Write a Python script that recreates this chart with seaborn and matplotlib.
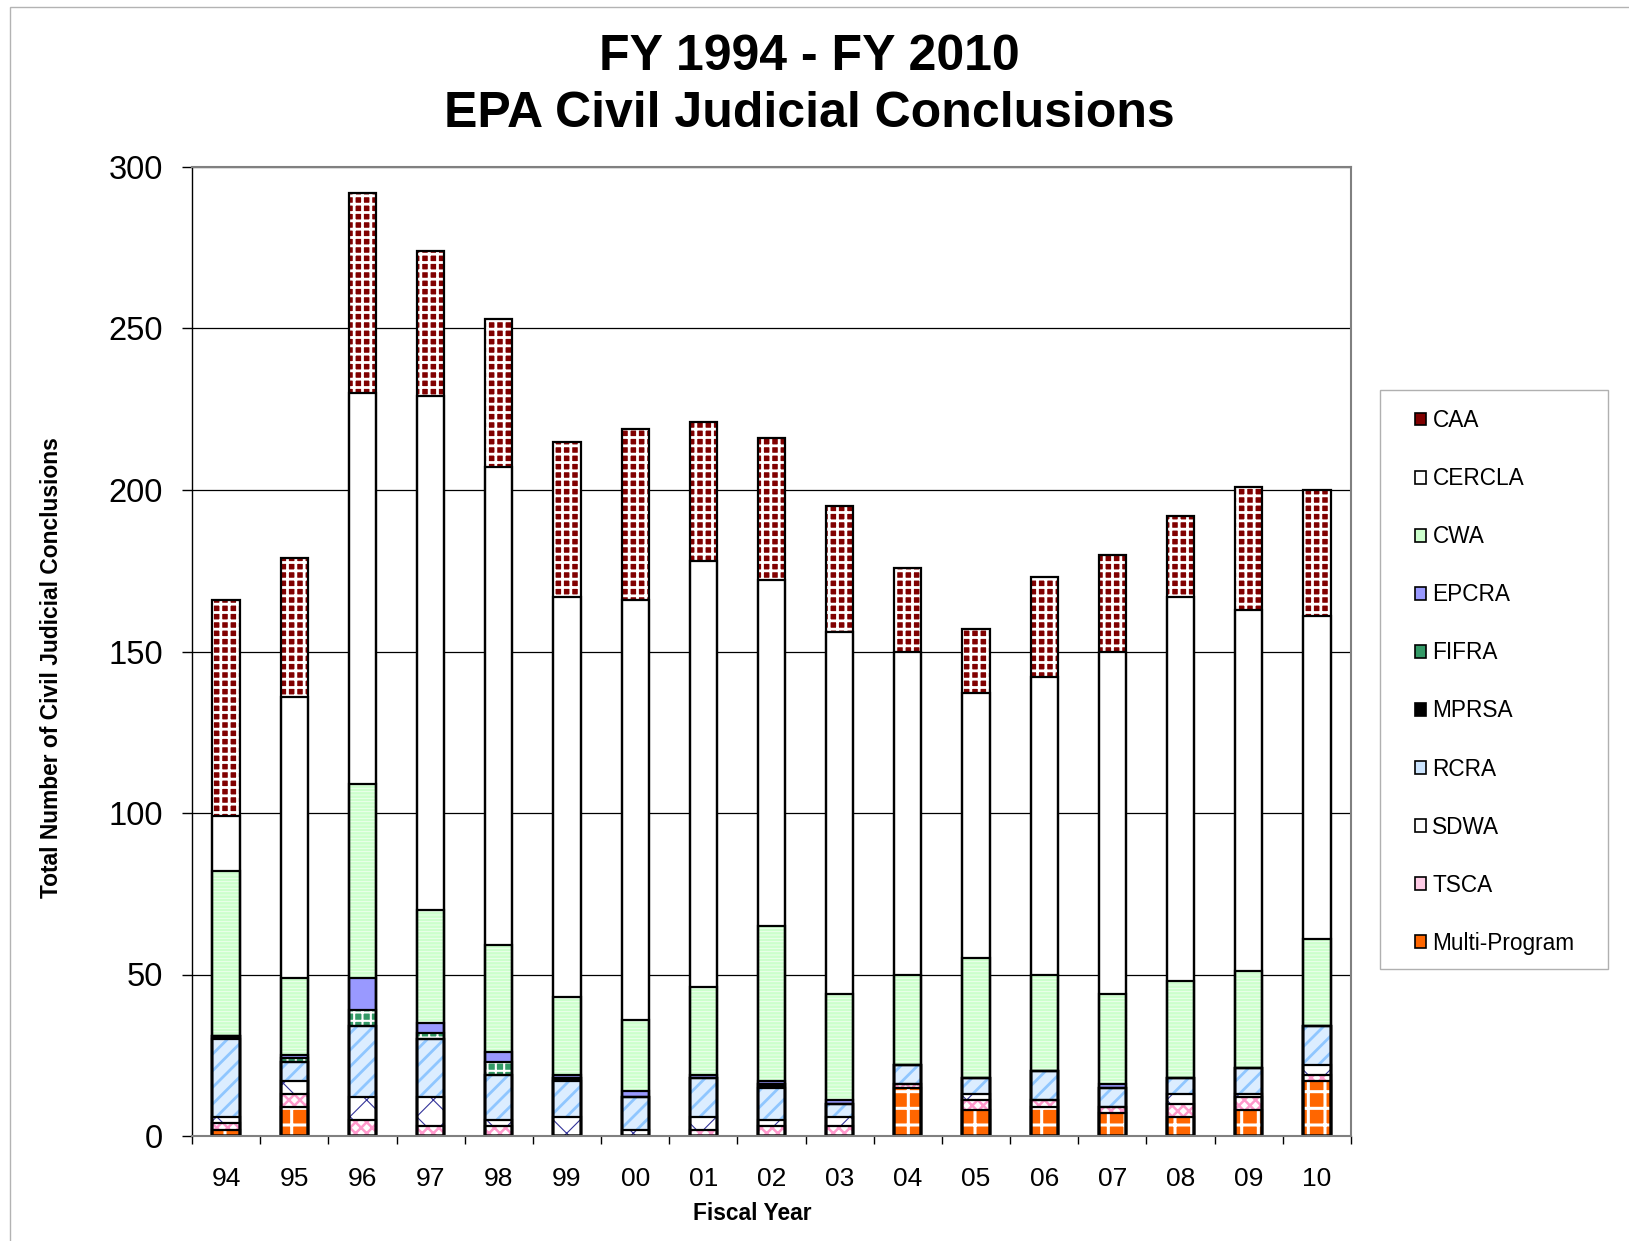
import matplotlib

matplotlib.use("Agg")
import matplotlib.pyplot as plt
import numpy as np
import seaborn as sns
from matplotlib.patches import Patch, Rectangle

# fiscal years (x categories)
years = ["94", "95", "96", "97", "98", "99", "00", "01", "02",
         "03", "04", "05", "06", "07", "08", "09", "10"]

# conclusions per program, bottom of the stack first
multi_program = [2, 9, 0, 0, 0, 0, 0, 0, 0, 0, 15, 8, 9, 7, 6, 8, 17]
tsca = [2, 4, 5, 3, 3, 0, 0, 2, 3, 3, 1, 3, 2, 2, 4, 4, 2]
sdwa = [2, 4, 7, 9, 2, 6, 2, 4, 2, 3, 0, 2, 0, 0, 3, 1, 3]
rcra = [24, 6, 22, 18, 14, 11, 10, 12, 10, 4, 6, 5, 9, 6, 5, 8, 12]
mprsa = [1, 0, 0, 0, 0, 1, 0, 0, 1, 0, 0, 0, 0, 0, 0, 0, 0]
fifra = [0, 1, 5, 2, 4, 0, 0, 0, 0, 0, 0, 0, 0, 0, 0, 0, 0]
epcra = [0, 1, 10, 3, 3, 1, 2, 1, 1, 1, 0, 0, 0, 1, 0, 0, 0]
cwa = [51, 24, 60, 35, 33, 24, 22, 27, 48, 33, 28, 37, 30, 28, 30, 30, 27]
cercla = [17, 87, 121, 159, 148, 124, 130, 132, 107, 112, 100, 82, 92, 106, 119, 112, 100]
caa = [67, 43, 62, 45, 46, 48, 53, 43, 44, 39, 26, 20, 31, 30, 25, 38, 39]

programs = ["Multi-Program", "TSCA", "SDWA", "RCRA", "MPRSA",
            "FIFRA", "EPCRA", "CWA", "CERCLA", "CAA"]
counts = [multi_program, tsca, sdwa, rcra, mprsa, fifra, epcra, cwa, cercla, caa]

# face colour, hatch, hatch colour, hatch width, legend swatch colour
styles = {
    "CAA": ("#800000", "++", "white", 2.0, "#800000"),
    "CERCLA": ("white", "", "white", 0.0, "white"),
    "CWA": ("#ccffcc", "-----", "#f2fff2", 0.6, "#ccffcc"),
    "EPCRA": ("#9999ff", "", "#9999ff", 0.0, "#9999ff"),
    "FIFRA": ("#339966", "++", "white", 1.5, "#339966"),
    "MPRSA": ("black", "", "black", 0.0, "black"),
    "RCRA": ("#dcedff", "//", "#8fc6ff", 2.0, "#cce5ff"),
    "SDWA": ("white", "x", "#333399", 0.8, "white"),
    "TSCA": ("white", "xxx", "#ff99cc", 1.8, "#ffcce6"),
    "Multi-Program": ("#ff6600", "+", "white", 2.2, "#ff6600"),
}

sns.set_style("white")
plt.rcParams["font.family"] = ["Liberation Sans", "DejaVu Sans"]
plt.rcParams["text.color"] = "black"
plt.rcParams["xtick.color"] = "black"
plt.rcParams["ytick.color"] = "black"
plt.rcParams["hatch.linewidth"] = 1.5

W, H = 1629, 1241
fig = plt.figure(figsize=(W / 100, H / 100), dpi=100)
ax = fig.add_axes([192 / W, 1 - 1136 / H, 1159 / W, 969 / H])

tops = np.cumsum(np.array(counts), axis=0)

# fills: tallest cumulative layer first, lower layers painted over it
for i in reversed(range(len(programs))):
    fc, hatch, hc, hlw, _ = styles[programs[i]]
    n0 = len(ax.patches)
    with plt.rc_context({"hatch.linewidth": hlw if hlw else 1.5}):
        sns.barplot(x=years, y=tops[i], order=years, color=fc, saturation=1,
                    width=0.4, errorbar=None, ax=ax)
    for p in ax.patches[n0:]:
        p.set_facecolor(fc)
        p.set_edgecolor(hc)
        p.set_linewidth(0)
        if hatch:
            p.set_hatch(hatch)
            if hasattr(p, "set_hatch_linewidth"):
                p.set_hatch_linewidth(hlw)

# black outlines of every segment
for i in reversed(range(len(programs))):
    n0 = len(ax.patches)
    sns.barplot(x=years, y=tops[i], order=years, fill=False, color="black",
                width=0.4, errorbar=None, ax=ax)
    for p in ax.patches[n0:]:
        p.set_facecolor("none")
        p.set_edgecolor("black")
        p.set_linewidth(1.6)

ax.set_xlim(-0.5, len(years) - 0.5)
ax.set_ylim(0, 300)
ax.set_yticks(range(0, 301, 50))
ax.set_xticks(range(len(years)))
ax.set_xticklabels(years)
ax.set_xticks(np.arange(-0.5, len(years), 1), minor=True)
ax.set_xlabel("")
ax.set_ylabel("")

ax.set_axisbelow(True)
ax.yaxis.grid(True, color="black", linewidth=0.9)
ax.xaxis.grid(False)

ax.tick_params(axis="y", which="major", direction="out", left=True, length=7,
               width=1, labelsize=23.5, pad=14, colors="black")
ax.tick_params(axis="x", which="major", bottom=True, length=0, labelsize=19, pad=22,
               colors="black")
ax.tick_params(axis="x", which="minor", bottom=True, direction="out", length=6,
               width=1, color="black")

for side in ["top", "right", "bottom"]:
    ax.spines[side].set_color("#808080")
    ax.spines[side].set_linewidth(1.5)
ax.spines["left"].set_color("black")
ax.spines["left"].set_linewidth(1)

fig.text(809 / W, 1 - 69.6 / H, "FY 1994 - FY 2010", ha="center", va="baseline",
         fontsize=36, fontweight="bold", color="black")
fig.text(809 / W, 1 - 126.8 / H, "EPA Civil Judicial Conclusions", ha="center",
         va="baseline", fontsize=36, fontweight="bold", color="black")
fig.text(52 / W, 1 - 668 / H, "Total Number of Civil Judicial Conclusions",
         rotation=90, ha="center", va="center", fontsize=16.4, fontweight="bold",
         color="black")
fig.text(752 / W, 1 - 1213 / H, "Fiscal Year", ha="center", va="center",
         fontsize=16.4, fontweight="bold", color="black")

handles = [Patch(facecolor=styles[name][4], edgecolor="black", linewidth=1.2, label=name)
           for name in reversed(programs)]
fig.legend(handles=handles, loc="upper left", bbox_to_anchor=(1415 / W, 1 - 409 / H),
           bbox_transform=fig.transFigure, frameon=False, fontsize=16.3,
           handlelength=0.5, handleheight=0.5, handletextpad=0.27,
           labelspacing=1.55, borderpad=0, borderaxespad=0)
fig.add_artist(Rectangle((1380 / W, 1 - 969 / H), 228 / W, 579 / H,
                         transform=fig.transFigure, fill=False,
                         edgecolor="#b0b0b0", linewidth=1))

# light border around the whole chart area
fig.add_artist(Rectangle((10 / W, -0.05), 1.0, 1.05 - 7 / H,
                         transform=fig.transFigure, fill=False,
                         edgecolor="#b3b3b3", linewidth=1))

fig.savefig("out.png", dpi=100)
